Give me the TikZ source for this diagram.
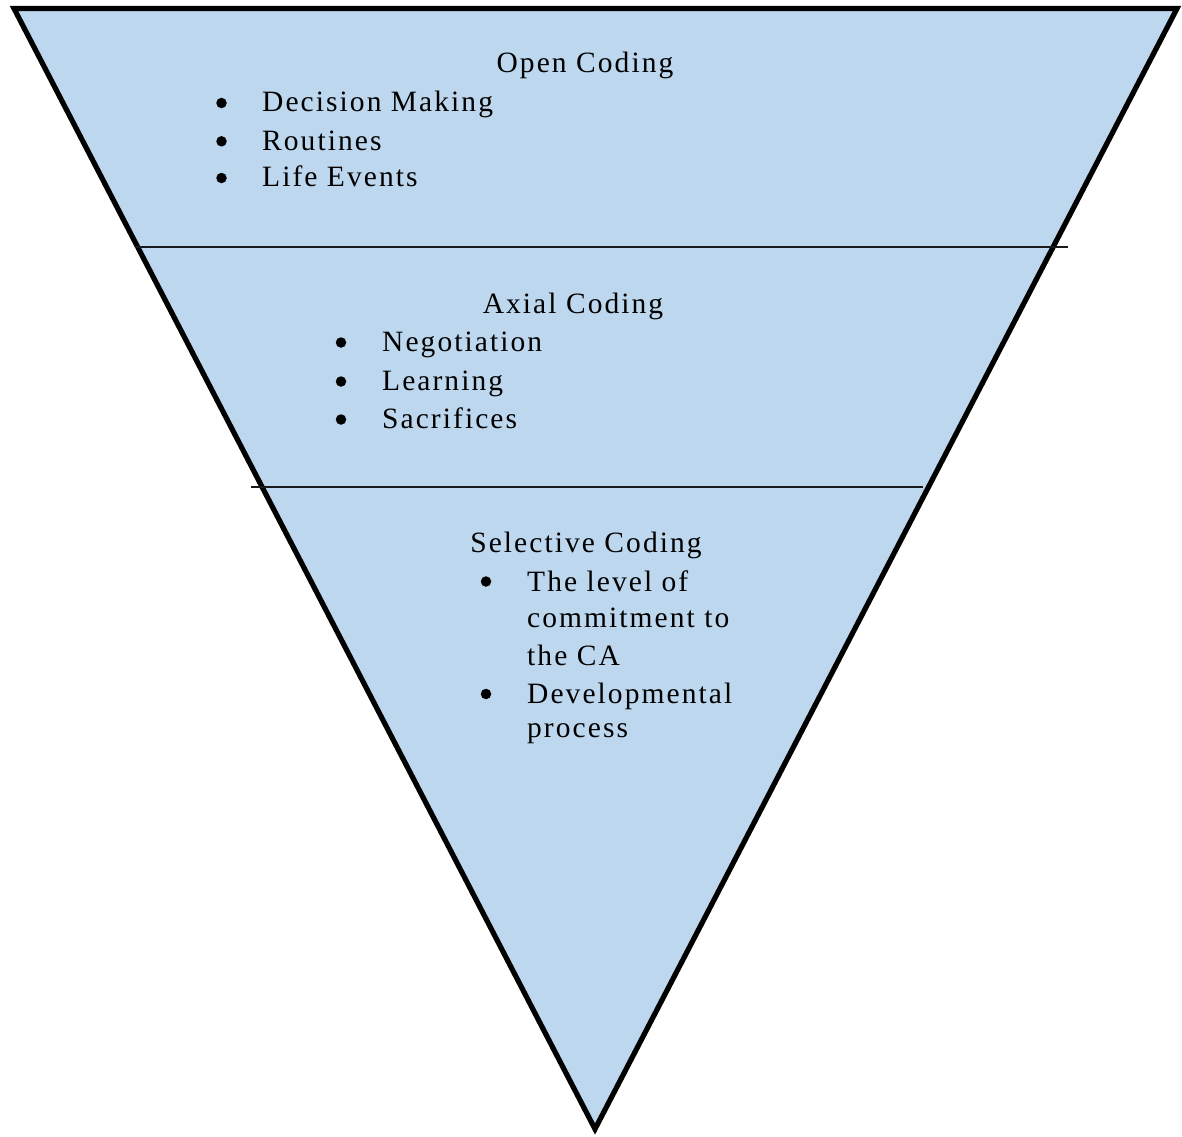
\documentclass[tikz,border=0pt]{standalone}
\usepackage{fontspec}
\setmainfont{Liberation Serif}[LetterSpace=7]
\usepackage{tikz}
\usetikzlibrary{calc}
\definecolor{lvlblue}{HTML}{BDD7EE}
\tikzset{lvl/.style={fill=lvlblue,draw=black,line width=5.2pt,line join=miter}}
\tikzset{sep/.style={draw=black!90,line width=2pt}}
\tikzset{ttl/.style={inner sep=0pt,anchor=base,font=\fontsize{29.5}{37}\selectfont}}
\tikzset{itm/.style={inner sep=0pt,anchor=base west,font=\fontsize{29.5}{37}\selectfont}}
\tikzset{bul/.style={circle,fill=black,inner sep=0pt,minimum size=10.5pt}}

\begin{document}
\begin{tikzpicture}[x=1pt,y=-1pt]
  \useasboundingbox (0,0) rectangle (1182,1136);
  % the funnel
  \coordinate (TL) at (14,8.5);
  \coordinate (TR) at (1177,8.5);
  \coordinate (V) at (595,1129);
  \filldraw [lvl] (TL) -- (TR) -- (V) -- cycle;
  % level borders
  \coordinate (S1a) at (135,246.5);
  \coordinate (S1b) at (1068,246.5);
  \coordinate (S2a) at (251,486.7);
  \coordinate (S2b) at (923,486.7);
  \draw [sep] (S1a) -- (S1b);
  \draw [sep] (S2a) -- (S2b);
  % open coding
  \node [ttl] (open) at (585,72) {Open Coding};
  \node [bul] (ob1) at (221.5,103) {};
  \node [itm] (o1) at (262,111.7) {Decision Making};
  \node [bul] (ob2) at (221.5,141.3) {};
  \node [itm] (o2) at (262,150) {Routines};
  \node [bul] (ob3) at (221.5,178) {};
  \node [itm] (o3) at (262,186.7) {Life Events};
  % axial coding
  \node [ttl] (axial) at (573,313) {Axial Coding};
  \node [bul] (ab1) at (341,342.5) {};
  \node [itm] (a1) at (382,351) {Negotiation};
  \node [bul] (ab2) at (341,381.5) {};
  \node [itm] (a2) at (382,390) {Learning};
  \node [bul] (ab3) at (341,419.5) {};
  \node [itm] (a3) at (382,428) {Sacrifices};
  % selective coding
  \node [ttl] (sel) at (586,552) {Selective Coding};
  \node [bul] (sb1) at (486,581.5) {};
  \node [itm] (s1) at (527,591) {The level of};
  \node [itm] (s1b) at (527,627) {commitment to};
  \node [itm] (s1c) at (527,665) {the CA};
  \node [bul] (sb2) at (486,694) {};
  \node [itm] (s2) at (527,703) {Developmental};
  \node [itm] (s2b) at (527,737) {process};
\end{tikzpicture}
\end{document}
